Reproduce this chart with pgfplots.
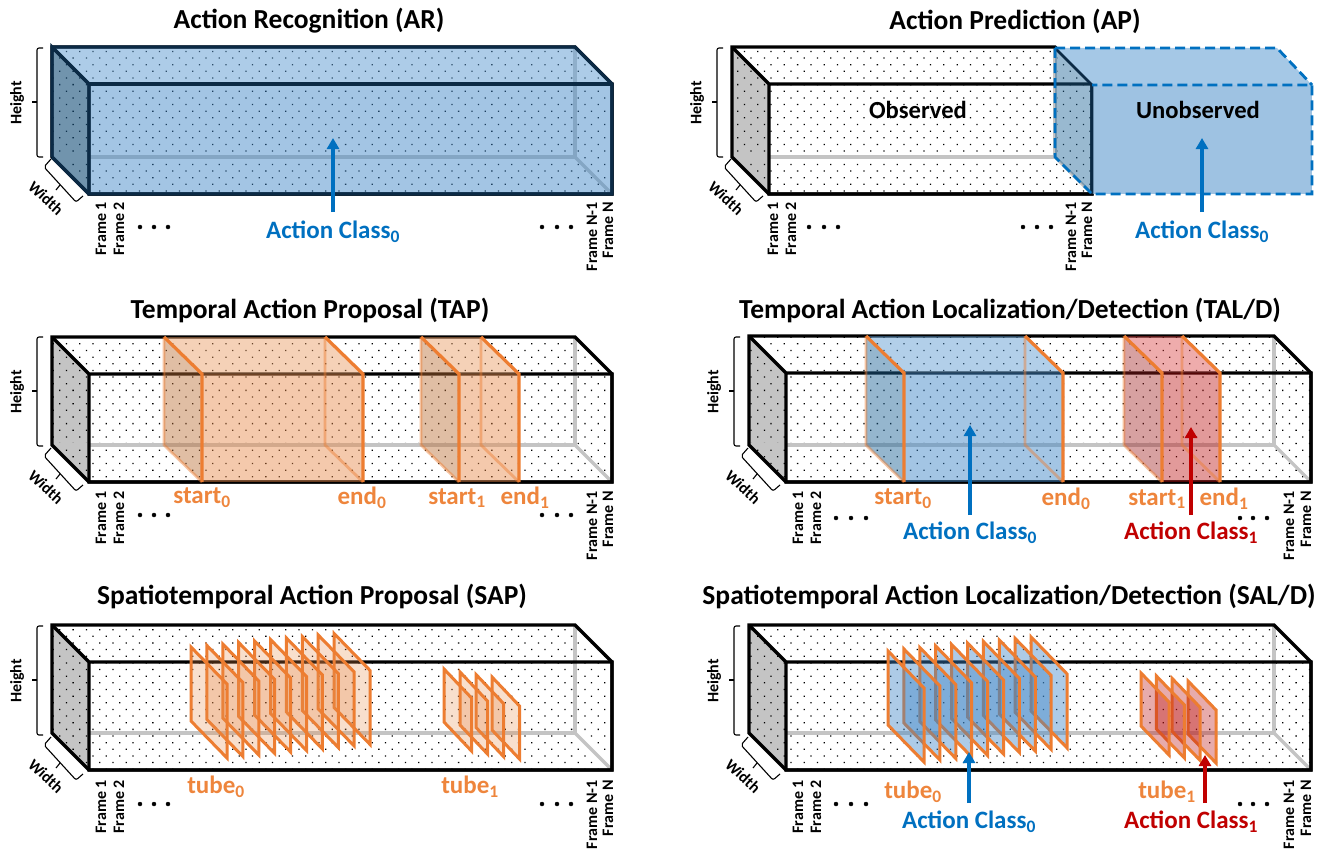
\documentclass[border=0pt]{standalone}
\usepackage{fontspec}
\setmainfont{Carlito}
\usepackage{pgfplots}
\pgfplotsset{compat=1.18}
\usetikzlibrary{patterns.meta,arrows.meta}

\definecolor{cubeblue}{HTML}{3D85C6}
\definecolor{topblue}{HTML}{5C9BD2}
\definecolor{sideblue}{HTML}{1F6598}
\definecolor{edgenavy}{HTML}{0B2A45}
\definecolor{arrowblue}{HTML}{0070C0}
\definecolor{lineorange}{HTML}{ED7D31}
\definecolor{textorange}{HTML}{EE853C}
\definecolor{fillorange}{HTML}{E78949}
\definecolor{toporange}{HTML}{E99B61}
\definecolor{sideorange}{HTML}{BB6F37}
\definecolor{darkred}{HTML}{C00000}
\definecolor{fillred}{HTML}{BC1010}
\definecolor{topred}{HTML}{D83A3A}
\definecolor{sidered}{HTML}{A02020}
\definecolor{backgray}{HTML}{C4C4C4}

\newcommand{\tsz}{\fontsize{27.5}{32}\selectfont\bfseries}
\newcommand{\lsz}{\fontsize{25}{30}\selectfont\bfseries}
\newcommand{\osz}{\fontsize{24.6}{30}\selectfont\bfseries}
\newcommand{\fsz}{\fontsize{16}{18}\selectfont\bfseries}

% poly[style]{coordinates}
\newcommand{\poly}[2][]{\addplot[#1] coordinates {#2} -- cycle;}
\newcommand{\lin}[2][]{\addplot[#1] coordinates {#2};}

% cube{back left x}{top y}{front width}{front height}
\newcommand{\cube}[4]{%
  \pgfmathsetmacro{\xa}{#1}\pgfmathsetmacro{\xb}{#1+37}%
  \pgfmathsetmacro{\xc}{#1+#3}\pgfmathsetmacro{\xd}{#1+#3+37}%
  \pgfmathsetmacro{\ya}{#2}\pgfmathsetmacro{\yb}{#2+37}%
  \pgfmathsetmacro{\yc}{#2+#4}\pgfmathsetmacro{\yd}{#2+#4+37}%
  \poly[draw=none,fill=white]{(\xa,\ya)(\xc,\ya)(\xd,\yb)(\xd,\yd)(\xb,\yd)(\xa,\yc)}
  \poly[draw=none,fill=backgray]{(\xa,\ya)(\xb,\yb)(\xb,\yd)(\xa,\yc)}
  \poly[draw=none,pattern={Dots[distance=9.4pt,angle=45,radius=0.9pt]},pattern color=black]{(\xa,\ya)(\xc,\ya)(\xd,\yb)(\xd,\yd)(\xb,\yd)(\xa,\yc)}
  \lin[draw=backgray,line width=3.2pt]{(\xa,\yc)(\xc,\yc)(\xc,\ya)}
  \lin[draw=backgray,line width=3.2pt]{(\xc,\yc)(\xd,\yd)}
  \poly[draw=black,line width=3.3pt,line join=miter]{(\xa,\ya)(\xc,\ya)(\xd,\yb)(\xd,\yd)(\xb,\yd)(\xa,\yc)}
  \poly[draw=black,line width=3.3pt,line join=miter]{(\xa,\ya)(\xb,\yb)(\xd,\yb)(\xd,\yd)(\xb,\yd)(\xb,\yb)}
}

% height and width brackets, shifted from the first panel
\newcommand{\dims}[2]{%
  \pgfmathsetmacro{\hxa}{37+#1}\pgfmathsetmacro{\hxb}{43+#1}\pgfmathsetmacro{\hxc}{32+#1}%
  \pgfmathsetmacro{\hya}{48+#2}\pgfmathsetmacro{\hyb}{157+#2}\pgfmathsetmacro{\hyc}{102+#2}%
  \lin[draw=black,line width=1.1pt,rounded corners=2pt]{(\hxb,\hya)(\hxa,\hya)(\hxa,\hyb)(\hxb,\hyb)}
  \lin[draw=black,line width=1.1pt]{(\hxc,\hyc)(\hxa,\hyc)}
  \pgfmathsetmacro{\wxa}{51+#1}\pgfmathsetmacro{\wxb}{44+#1}\pgfmathsetmacro{\wxc}{76+#1}\pgfmathsetmacro{\wxd}{83+#1}%
  \pgfmathsetmacro{\wya}{159+#2}\pgfmathsetmacro{\wyb}{167+#2}\pgfmathsetmacro{\wyc}{202+#2}\pgfmathsetmacro{\wyd}{196+#2}%
  \lin[draw=black,line width=1.1pt,rounded corners=2pt]{(\wxa,\wya)(\wxb,\wyb)(\wxc,\wyc)(\wxd,\wyd)}
  \pgfmathsetmacro{\wxa}{60+#1}\pgfmathsetmacro{\wxb}{56+#1}\pgfmathsetmacro{\wya}{185+#2}\pgfmathsetmacro{\wyb}{190+#2}%
  \lin[draw=black,line width=1.1pt]{(\wxa,\wya)(\wxb,\wyb)}
}
% dimtext{height x}{height y}{width x}{width y}
\newcommand{\dimtext}[4]{%
  \node[font=\fsz,rotate=90,inner sep=0pt] at (axis cs:#1,#2) {Height};
  \node[font=\fsz,rotate=-43,inner sep=0pt] at (axis cs:#3,#4) {Width};
}

% slab{back x start}{back x end}{top y}{height}{front}{top}{side}{alpha}
\newcommand{\slab}[8]{%
  \pgfmathsetmacro{\xa}{#1}\pgfmathsetmacro{\xb}{#1+38}%
  \pgfmathsetmacro{\xc}{#2}\pgfmathsetmacro{\xd}{#2+38}%
  \pgfmathsetmacro{\ya}{#3}\pgfmathsetmacro{\yb}{#3+37}%
  \pgfmathsetmacro{\yc}{#3+#4}\pgfmathsetmacro{\yd}{#3+#4+37}%
  \poly[draw=none,fill=#7,fill opacity=#8]{(\xa,\ya)(\xb,\yb)(\xb,\yd)(\xa,\yc)}
  \poly[draw=none,fill=#6,fill opacity=#8]{(\xa,\ya)(\xc,\ya)(\xd,\yb)(\xb,\yb)}
  \poly[draw=none,fill=#5,fill opacity=#8]{(\xb,\yb)(\xd,\yb)(\xd,\yd)(\xb,\yd)}
  \lin[draw=lineorange,draw opacity=0.45,line width=2.8pt]{(\xa,\ya)(\xa,\yc)(\xb,\yd)}
  \lin[draw=lineorange,draw opacity=0.45,line width=2.8pt]{(\xc,\ya)(\xc,\yc)(\xd,\yd)}
  \lin[draw=lineorange,line width=3.2pt,line join=miter]{(\xa,\ya)(\xb,\yb)(\xb,\yd)}
  \lin[draw=lineorange,line width=3.2pt,line join=miter]{(\xc,\ya)(\xd,\yb)(\xd,\yd)}
}

% tframe{x}{y}{dx}{dy}{height}{fill}{alpha}
\newcommand{\tframe}[7]{%
  \pgfmathsetmacro{\xa}{#1}\pgfmathsetmacro{\xb}{#1+#3}%
  \pgfmathsetmacro{\ya}{#2}\pgfmathsetmacro{\yb}{#2+#4}%
  \pgfmathsetmacro{\yc}{#2+#5}\pgfmathsetmacro{\yd}{#2+#4+#5}%
  \poly[draw=lineorange,line width=3pt,line join=miter,fill=#6,fill opacity=#7]{(\xa,\ya)(\xb,\yb)(\xb,\yd)(\xa,\yc)}
}

% frames{x1}{x2}{xn1}{xn}{top y}
\newcommand{\frames}[5]{%
  \node[font=\fsz,rotate=90,anchor=east,inner sep=0pt] at (axis cs:#1,#5) {Frame 1};
  \node[font=\fsz,rotate=90,anchor=east,inner sep=0pt] at (axis cs:#2,#5) {Frame 2};
  \node[font=\fsz,rotate=90,anchor=east,inner sep=0pt] at (axis cs:#3,#5) {Frame N-1};
  \node[font=\fsz,rotate=90,anchor=east,inner sep=0pt] at (axis cs:#4,#5) {Frame N};
}
\newcommand{\ellip}[2]{\addplot[only marks,mark=*,mark size=2pt,black] coordinates {#1 #2};}

\begin{document}
\begin{tikzpicture}
\begin{axis}[
  scale only axis,
  width=1329pt,
  height=847pt,
  xmin=0, xmax=1329,
  ymin=0, ymax=847,
  y dir=reverse,
  hide axis,
  clip=false,
]
\addplot[draw=none,mark=none] coordinates {(0,0)(1329,847)};

% ---- titles
\node[font=\tsz] at (axis cs:309,21) {Action Recognition (AR)};
\node[font=\tsz] at (axis cs:1015,21) {Action Prediction (AP)};
\node[font=\tsz] at (axis cs:310,310) {Temporal Action Proposal (TAP)};
\node[font=\tsz] at (axis cs:1010,310) {Temporal Action Localization/Detection (TAL/D)};
\node[font=\tsz] at (axis cs:312,596) {Spatiotemporal Action Proposal (SAP)};
\node[font=\tsz] at (axis cs:1009,596) {Spatiotemporal Action Localization/Detection (SAL/D)};

% ---- action recognition
\cube{52}{47}{523}{110}
\poly[draw=none,fill=sideblue,fill opacity=0.5]{(52,47)(89,84)(89,194)(52,157)}
\poly[draw=none,fill=topblue,fill opacity=0.5]{(52,47)(575,47)(612,84)(89,84)}
\poly[draw=none,fill=cubeblue,fill opacity=0.47]{(89,84)(612,84)(612,194)(89,194)}
\lin[draw=edgenavy,line width=3.3pt,line join=miter]{(52,157)(52,47)(89,84)(89,194)}
\lin[draw=edgenavy,line width=3.3pt,line join=miter]{(52,47)(575,47)(612,84)(612,194)(89,194)(52,157)}
\lin[draw=edgenavy,line width=3.3pt]{(89,84)(612,84)}
\dims{0}{0}
\dimtext{17}{103}{46}{198}
\frames{101}{119}{592}{608}{202}
\ellip{(140,227)(154,227)(168,227)}{(542,227)(557,227)(571,227)}
\lin[draw=arrowblue,line width=3.5pt,-{Triangle[length=11pt,width=12pt]}]{(333,212)(333,138)}
\node[font=\lsz,text=arrowblue] at (axis cs:333,232) {Action Class\textsubscript{0}};

% ---- action prediction
\cube{732}{47}{323}{110}
\poly[draw=none,fill=sideblue,fill opacity=0.45]{(1055,48)(1092,85)(1092,194)(1055,157)}
\poly[draw=none,fill=topblue!55!white]{(1055,48)(1277,48)(1312,85)(1092,85)}
\poly[draw=none,fill=cubeblue!50!white]{(1092,85)(1312,85)(1312,194)(1092,194)}
\lin[draw=edgenavy,line width=2.8pt]{(1055,48)(1092,85)(1092,194)}
\lin[draw=arrowblue,line width=2.8pt,dash pattern=on 10pt off 5pt]{(1055,48)(1055,157)(1092,194)(1312,194)(1312,85)(1092,85)}
\lin[draw=arrowblue,line width=2.8pt,dash pattern=on 10pt off 5pt]{(1055,48)(1277,48)(1312,85)}
\dims{680}{0}
\dimtext{697}{103}{726}{198}
\frames{773}{791}{1071}{1087}{202}
\ellip{(809,227)(824,227)(838,227)}{(1023,227)(1037,227)(1051,227)}
\node[font=\osz] at (axis cs:918,110) {Observed};
\node[font=\osz] at (axis cs:1198,110) {Unobserved};
\lin[draw=arrowblue,line width=3.5pt,-{Triangle[length=11pt,width=12pt]}]{(1202,212)(1202,138)}
\node[font=\lsz,text=arrowblue] at (axis cs:1202,232) {Action Class\textsubscript{0}};

% ---- temporal action proposal
\cube{52}{337}{523}{108}
\slab{164}{325}{337}{108}{fillorange}{toporange}{sideorange}{0.45}
\slab{421}{481}{337}{108}{fillorange}{toporange}{sideorange}{0.45}
\dims{0}{289}
\dimtext{17}{392}{46}{487}
\frames{101}{119}{592}{608}{491}
\ellip{(140,515)(154,515)(168,515)}{(542,515)(557,515)(571,515)}
\node[font=\lsz,text=textorange] at (axis cs:202,498) {start\textsubscript{0}};
\node[font=\lsz,text=textorange] at (axis cs:362,498) {end\textsubscript{0}};
\node[font=\lsz,text=textorange] at (axis cs:457,498) {start\textsubscript{1}};
\node[font=\lsz,text=textorange] at (axis cs:525,498) {end\textsubscript{1}};

% ---- temporal action localization
\cube{749}{336}{525}{109}
\slab{866}{1025}{336}{109}{cubeblue}{topblue}{sideblue}{0.47}
\slab{1124}{1182}{336}{109}{fillred}{topred}{sidered}{0.42}
\dims{697}{289}
\dimtext{714}{392}{743}{487}
\frames{798}{816}{1289}{1306}{491}
\ellip{(836,518)(851,518)(866,518)}{(1240,518)(1253,518)(1267,518)}
\node[font=\lsz,text=textorange] at (axis cs:903,499) {start\textsubscript{0}};
\node[font=\lsz,text=textorange] at (axis cs:1066,499) {end\textsubscript{0}};
\node[font=\lsz,text=textorange] at (axis cs:1157,499) {start\textsubscript{1}};
\node[font=\lsz,text=textorange] at (axis cs:1224,499) {end\textsubscript{1}};
\lin[draw=arrowblue,line width=3.5pt,-{Triangle[length=11pt,width=12pt]}]{(970,515)(970,425)}
\node[font=\lsz,text=arrowblue] at (axis cs:970,533) {Action Class\textsubscript{0}};
\lin[draw=darkred,line width=3.5pt,-{Triangle[length=11pt,width=12pt]}]{(1191,515)(1191,427)}
\node[font=\lsz,text=darkred] at (axis cs:1191,533) {Action Class\textsubscript{1}};

% ---- spatiotemporal action proposal
\cube{52}{625}{523}{108}
\tframe{334.1}{633.5}{36}{37}{74}{fillorange}{0.27}
\tframe{318.2}{635.0}{36}{37}{74}{fillorange}{0.27}
\tframe{302.3}{636.5}{36}{37}{74}{fillorange}{0.27}
\tframe{286.4}{638.0}{36}{37}{74}{fillorange}{0.27}
\tframe{270.5}{639.5}{36}{37}{74}{fillorange}{0.27}
\tframe{254.6}{641.0}{36}{37}{74}{fillorange}{0.27}
\tframe{238.7}{642.5}{36}{37}{74}{fillorange}{0.27}
\tframe{222.8}{644.0}{36}{37}{74}{fillorange}{0.27}
\tframe{206.9}{645.5}{36}{37}{74}{fillorange}{0.27}
\tframe{191.0}{647.0}{36}{37}{74}{fillorange}{0.27}
\tframe{492}{677}{27.5}{29}{53}{fillorange}{0.27}
\tframe{476}{674.5}{27.5}{29}{53}{fillorange}{0.27}
\tframe{460}{672}{27.5}{29}{53}{fillorange}{0.27}
\tframe{444}{669}{27.5}{29}{53}{fillorange}{0.27}
\dims{0}{578}
\dimtext{17}{681}{46}{776}
\frames{101}{119}{592}{608}{780}
\ellip{(140,804)(154,804)(168,804)}{(542,804)(557,804)(571,804)}
\node[font=\lsz,text=textorange] at (axis cs:216,787) {tube\textsubscript{0}};
\node[font=\lsz,text=textorange] at (axis cs:470,787) {tube\textsubscript{1}};

% ---- spatiotemporal action localization
\cube{749}{625}{525}{108}
\tframe{1031.1}{637}{36}{37}{74}{cubeblue}{0.42}
\tframe{1015.2}{638.5}{36}{37}{74}{cubeblue}{0.42}
\tframe{999.3}{640}{36}{37}{74}{cubeblue}{0.42}
\tframe{983.4}{641.5}{36}{37}{74}{cubeblue}{0.42}
\tframe{967.5}{643}{36}{37}{74}{cubeblue}{0.42}
\tframe{951.6}{644.5}{36}{37}{74}{cubeblue}{0.42}
\tframe{935.7}{646}{36}{37}{74}{cubeblue}{0.42}
\tframe{919.8}{647.5}{36}{37}{74}{cubeblue}{0.42}
\tframe{903.9}{649}{36}{37}{74}{cubeblue}{0.42}
\tframe{888}{651}{36}{37}{74}{cubeblue}{0.42}
\tframe{1188}{681}{28}{29}{53}{fillred}{0.35}
\tframe{1172.2}{678.5}{28}{29}{53}{fillred}{0.35}
\tframe{1156.4}{676}{28}{29}{53}{fillred}{0.35}
\tframe{1141}{673}{28}{29}{53}{fillred}{0.35}
\dims{697}{578}
\dimtext{714}{681}{743}{776}
\frames{798}{816}{1289}{1306}{780}
\ellip{(836,804)(851,804)(866,804)}{(1240,804)(1253,804)(1267,804)}
\node[font=\lsz,text=textorange] at (axis cs:913,792) {tube\textsubscript{0}};
\node[font=\lsz,text=textorange] at (axis cs:1167,792) {tube\textsubscript{1}};
\lin[draw=arrowblue,line width=3.5pt,-{Triangle[length=11pt,width=12pt]}]{(969,803)(969,752)}
\node[font=\lsz,text=arrowblue] at (axis cs:969,822) {Action Class\textsubscript{0}};
\lin[draw=darkred,line width=3.5pt,-{Triangle[length=11pt,width=12pt]}]{(1205,803)(1205,755)}
\node[font=\lsz,text=darkred] at (axis cs:1191,822) {Action Class\textsubscript{1}};
\end{axis}
\end{tikzpicture}
\end{document}
